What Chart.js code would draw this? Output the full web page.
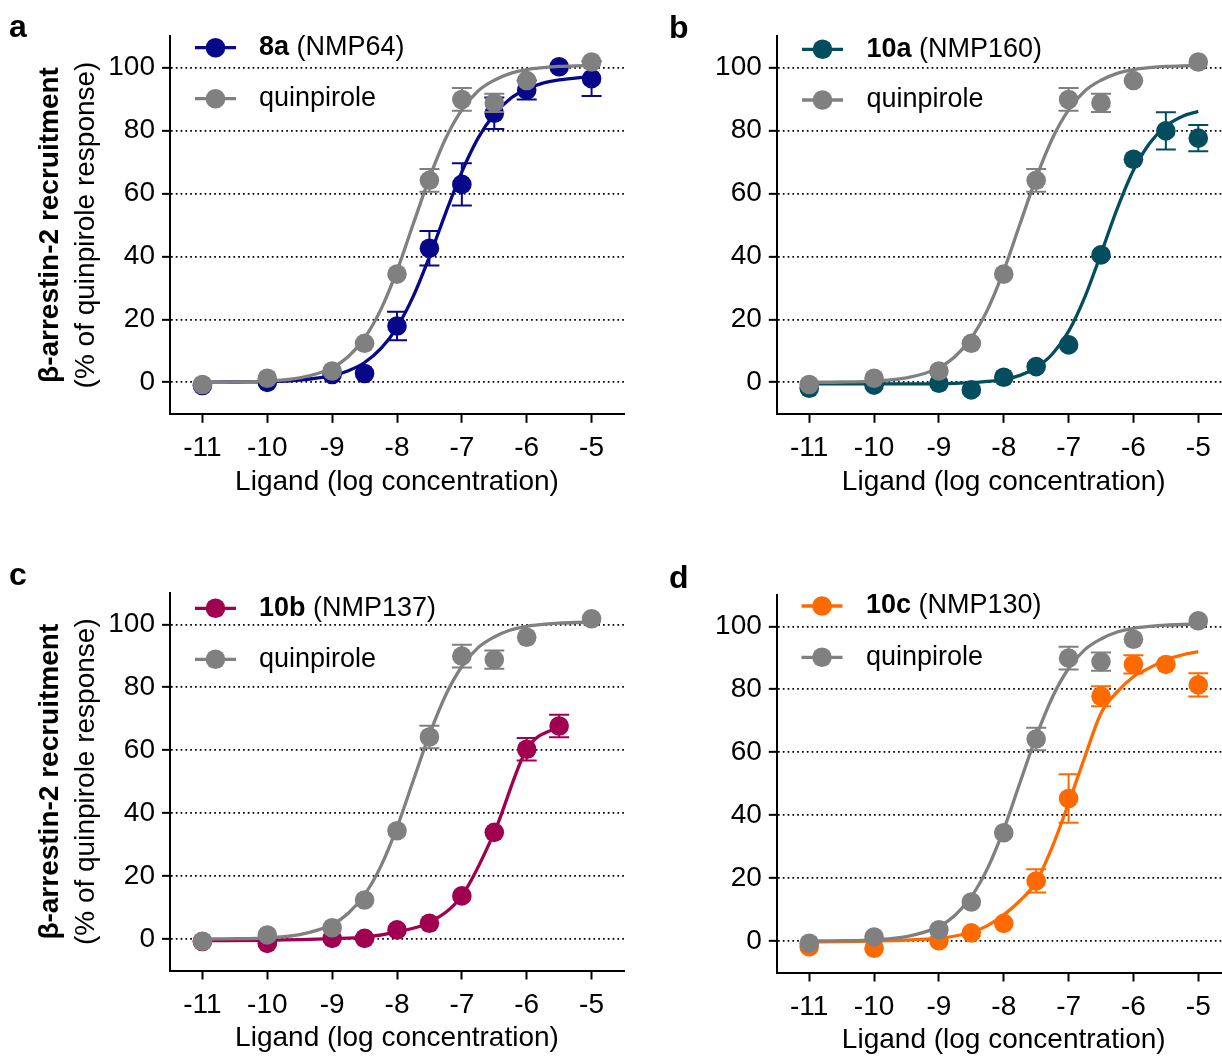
<!DOCTYPE html>
<html>
<head>
<meta charset="utf-8">
<script src="https://cdn.jsdelivr.net/npm/chart.js@4.4.1/dist/chart.umd.min.js"></script>
<style>
html, body { margin: 0; padding: 0; background: #fff; overflow: hidden; width: 1222px; height: 1057px; }
canvas { position: absolute; }
</style>
</head>
<body>
<canvas id="pa" width="640" height="520" style="left:0px;top:0px"></canvas>
<canvas id="pb" width="640" height="520" style="left:610px;top:0px"></canvas>
<canvas id="pc" width="640" height="517" style="left:0px;top:540px"></canvas>
<canvas id="pd" width="640" height="517" style="left:610px;top:540px"></canvas>
<script>
// tick labels
var ticksX = [-11, -10, -9, -8, -7, -6, -5];
var ticksY = [0, 20, 40, 60, 80, 100];

// quinpirole reference (same in every panel)
var doseX = [-11, -10, -9, -8.5, -8, -7.5, -7, -6.5, -6, -5];
var quinMean = [-0.7, 1.3, 3.6, 12.4, 34.4, 64.2, 89.9, 88.8, 95.9, 101.8];
var quinErr = [0, 0, 0, 0, 0, 3.6, 3.6, 2.9, 0, 0];

// fitted curves
var fitX = [-11, -10.5, -10, -9.5, -9, -8.75, -8.5, -8.25, -8, -7.75, -7.5, -7.25, -7, -6.75, -6.5, -6.25, -6, -5.75, -5.5, -5.25, -5];
var quinFit = [0.0, 0.1, 0.4, 1.4, 4.6, 8.2, 14.1, 23.1, 35.5, 50.3, 65.0, 77.5, 86.6, 92.6, 96.0, 98.2, 99.4, 100.0, 100.4, 100.6, 100.7];

// 8a (NMP64)
var x8a = [-11, -10, -9, -8.5, -8, -7.5, -7, -6.5, -6, -5.5, -5];
var mean8a = [-1.0, 0.0, 2.5, 2.8, 17.9, 42.6, 62.9, 85.5, 92.9, 100.3, 96.5];
var err8a = [0, 0, 0, 0, 4.5, 5.5, 6.7, 5.0, 3.0, 0, 5.5];
var fit8a = [0.0, 0.1, 0.2, 0.7, 2.1, 3.7, 6.3, 10.7, 17.5, 27.3, 39.9, 53.8, 66.9, 77.6, 85.2, 90.2, 93.2, 95.1, 96.1, 96.7, 97.1];

// 10a (NMP160)
var x10a = [-11, -10, -9, -8.5, -8, -7.5, -7, -6.5, -6, -5.5, -5];
var mean10a = [-1.9, -0.9, -0.3, -2.4, 1.6, 5.0, 11.9, 40.5, 70.9, 79.9, 77.6];
var err10a = [0, 0, 0, 0, 0, 0, 0, 0, 0, 5.9, 4.2];
var fit10a = [-0.5, -0.5, -0.5, -0.5, -0.4, -0.3, -0.1, 0.3, 0.9, 2.2, 4.7, 9.0, 16.2, 27.1, 40.9, 55.2, 67.4, 76.0, 81.4, 84.5, 86.1];

// 10b (NMP137)
var x10b = [-11, -10, -9, -8.5, -8, -7.5, -7, -6.5, -6, -5.5];
var mean10b = [-0.8, -1.4, 0.2, 0.2, 2.9, 5.0, 13.7, 33.9, 60.3, 67.7];
var err10b = [0, 0, 0, 0, 0, 0, 0, 0, 3.6, 3.6];
var fitX10b = [-11, -10, -9, -8.5, -8, -7.5, -7, -6.5, -6, -5.5];
var fit10b = [-0.5, -0.4, 0.1, 0.6, 2.3, 5.3, 13.8, 33.9, 60.3, 67.7];

// 10c (NMP130)
var x10c = [-11, -10, -9, -8.5, -8, -7.5, -7, -6.5, -6, -5.5, -5];
var mean10c = [-1.8, -2.3, 0.1, 2.6, 5.6, 19.1, 45.3, 77.8, 87.9, 87.9, 81.4];
var err10c = [0, 0, 0, 0, 0, 3.7, 7.7, 3.2, 2.9, 0, 3.7];
var fit10c = [-0.3, -0.2, 0.0, 0.3, 0.9, 1.6, 2.8, 4.9, 8.3, 12.8, 18.8, 30.0, 43.8, 58.5, 72.4, 79.2, 84.0, 86.8, 89.4, 90.9, 92.0];

var FONT = "'Liberation Sans', Arial, sans-serif";
var GRAY = '#808080';

function pts(xs, ys) {
	return xs.map(function(x, i) { return {x: x, y: ys[i]}; });
}

var errorBars = {
	id: 'errorBars',
	beforeDatasetDraw: function(chart, args) {
		var ds = chart.data.datasets[args.index];
		if (!ds.errors) return;
		var ctx = chart.ctx, ys = chart.scales.y;
		ctx.save();
		ctx.strokeStyle = ds.pointBackgroundColor;
		ctx.lineWidth = 2;
		args.meta.data.forEach(function(pt, i) {
			var e = ds.errors[i];
			if (!e) return;
			var v = ds.data[i].y;
			var t = ys.getPixelForValue(v + e), b = ys.getPixelForValue(v - e);
			ctx.beginPath();
			ctx.moveTo(pt.x, t); ctx.lineTo(pt.x, b);
			ctx.moveTo(pt.x - 10, t); ctx.lineTo(pt.x + 10, t);
			ctx.moveTo(pt.x - 10, b); ctx.lineTo(pt.x + 10, b);
			ctx.stroke();
		});
		ctx.restore();
	}
};

function textPlugin(p) {
	return {
		id: 'panelText',
		afterDraw: function(chart) {
			var ctx = chart.ctx, a = chart.chartArea;
			var ox = p.left, oy = p.top;
			ctx.save();
			ctx.fillStyle = '#000';
			// panel letter
			ctx.font = 'bold 32px ' + FONT;
			ctx.textAlign = 'left';
			ctx.textBaseline = 'alphabetic';
			ctx.fillText(p.label, p.labelPos[0] - ox, p.labelPos[1] - oy);
			// x title
			ctx.font = '28px ' + FONT;
			ctx.textAlign = 'center';
			ctx.textBaseline = 'middle';
			ctx.fillText('Ligand (log concentration)', (a.left + a.right) / 2, a.bottom + 68);
			// y title
			if (p.yTitle) {
				ctx.save();
				ctx.translate(a.left - 120, (a.top + a.bottom) / 2);
				ctx.rotate(-Math.PI / 2);
				ctx.font = 'bold 28px ' + FONT;
				ctx.fillText('\u03b2-arrestin-2 recruitment', 0, 0);
				ctx.restore();
				ctx.save();
				ctx.translate(a.left - 84, (a.top + a.bottom) / 2);
				ctx.rotate(-Math.PI / 2);
				ctx.font = '28px ' + FONT;
				ctx.fillText('(% of quinpirole response)', 0, 0);
				ctx.restore();
			}
			// legend
			var rows = [
				{color: p.color, bold: p.name, rest: p.code},
				{color: GRAY, bold: '', rest: 'quinpirole'}
			];
			rows.forEach(function(r, i) {
				var y = p.legendY[i] - oy;
				var x0 = p.legendX - ox;
				ctx.strokeStyle = r.color;
				ctx.lineWidth = 3.3;
				ctx.beginPath();
				ctx.moveTo(x0, y); ctx.lineTo(x0 + 41, y);
				ctx.stroke();
				ctx.fillStyle = r.color;
				ctx.beginPath();
				ctx.arc(x0 + 20.5, y, 9.8, 0, Math.PI * 2);
				ctx.fill();
				ctx.fillStyle = '#000';
				ctx.textAlign = 'left';
				ctx.textBaseline = 'middle';
				var tx = p.textX - ox;
				if (r.bold) {
					ctx.font = 'bold 27px ' + FONT;
					ctx.fillText(r.bold, tx, y);
					tx += ctx.measureText(r.bold).width;
				}
				ctx.font = '27px ' + FONT;
				ctx.fillText(r.rest, tx, y);
			});
			ctx.restore();
		}
	};
}

var panels = [
	{id: 'pa', left: 0, top: 0, w: 640, h: 520, area: {l: 170, t: 36.2, r: 624, b: 413.8},
		label: 'a', labelPos: [9, 37], legendX: 195, textX: 259, legendY: [47.7, 98.7], yTitle: true,
		name: '8a', code: ' (NMP64)', color: '#07078a',
		xs: x8a, mean: mean8a, err: err8a, fx: fitX, fy: fit8a},
	{id: 'pb', left: 610, top: 0, w: 640, h: 520, area: {l: 776.8, t: 36.2, r: 1230.7, b: 413.8},
		label: 'b', labelPos: [669, 38], legendX: 802, textX: 866.5, legendY: [49.3, 100], yTitle: false,
		name: '10a', code: ' (NMP160)', color: '#034d5e',
		xs: x10a, mean: mean10a, err: err10a, fx: fitX, fy: fit10a},
	{id: 'pc', left: 0, top: 540, w: 640, h: 517, area: {l: 170, t: 592.9, r: 624, b: 970.5},
		label: 'c', labelPos: [9, 585], legendX: 195, textX: 259, legendY: [608.3, 659.3], yTitle: true,
		name: '10b', code: ' (NMP137)', color: '#a0004f',
		xs: x10b, mean: mean10b, err: err10b, fx: fitX10b, fy: fit10b},
	{id: 'pd', left: 610, top: 540, w: 640, h: 517, area: {l: 776.8, t: 594.9, r: 1230.7, b: 972.5},
		label: 'd', labelPos: [669, 587.7], legendX: 801.5, textX: 866, legendY: [606, 657.3], yTitle: false,
		name: '10c', code: ' (NMP130)', color: '#ff6a00',
		xs: x10c, mean: mean10c, err: err10c, fx: fitX, fy: fit10c}
];

panels.forEach(function(p) {
	var a = p.area;
	var padTop = a.t - p.top, padRight = (p.left + p.w) - a.r;
	var yW = a.l - p.left, xH = (p.top + p.h) - a.b;
	var pointStyle = function(c) {
		return {showLine: false, pointRadius: 9.8, pointHoverRadius: 9.8, pointBorderWidth: 0,
			pointBackgroundColor: c, borderColor: c};
	};
	var curveStyle = function(c) {
		return {borderColor: c, borderWidth: 3.3, pointRadius: 0, pointHoverRadius: 0,
			cubicInterpolationMode: 'monotone', fill: false};
	};
	// first dataset is drawn on top
	var datasets = [
		Object.assign({label: 'quinpirole', data: pts(doseX, quinMean), errors: quinErr}, pointStyle(GRAY)),
		Object.assign({label: 'quinpirole fit', data: pts(fitX, quinFit)}, curveStyle(GRAY)),
		Object.assign({label: p.name, data: pts(p.xs, p.mean), errors: p.err}, pointStyle(p.color)),
		Object.assign({label: p.name + ' fit', data: pts(p.fx, p.fy)}, curveStyle(p.color))
	];
	new Chart(document.getElementById(p.id), {
		type: 'line',
		data: {datasets: datasets},
		options: {
			responsive: false,
			animation: false,
			devicePixelRatio: 1,
			events: [],
			layout: {padding: {top: padTop, right: padRight, left: 0, bottom: 0}},
			plugins: {legend: {display: false}, tooltip: {enabled: false}},
			scales: {
				x: {
					type: 'linear', min: -11.5, max: -4.5,
					afterBuildTicks: function(s) { s.ticks = ticksX.map(function(v) { return {value: v}; }); },
					afterFit: function(s) { s.height = xH; },
					grid: {drawOnChartArea: false, drawTicks: true, tickLength: 9, tickWidth: 2, tickColor: '#000'},
					border: {display: true, color: '#000', width: 2},
					ticks: {color: '#000', font: {family: FONT, size: 28}, padding: 9, maxRotation: 0, autoSkip: false,
						callback: function(v) { return String(v); }}
				},
				y: {
					type: 'linear', min: -10, max: 110,
					afterBuildTicks: function(s) { s.ticks = ticksY.map(function(v) { return {value: v}; }); },
					afterFit: function(s) { s.width = yW; },
					grid: {color: '#000', lineWidth: 1.7, drawTicks: true, tickLength: 8, tickWidth: 2, tickColor: '#000', tickBorderDash: []},
					border: {display: true, color: '#000', width: 2, dash: [1.7, 3.1]},
					ticks: {color: '#000', font: {family: FONT, size: 28}, padding: 7, autoSkip: false}
				}
			}
		},
		plugins: [errorBars, textPlugin(p)]
	});
});
</script>
</body>
</html>
